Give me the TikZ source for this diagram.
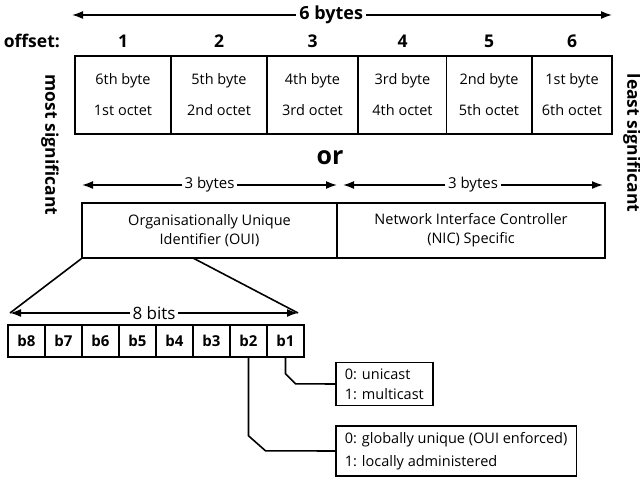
\documentclass[tikz,border=0pt]{standalone}
\usepackage{fontspec}
\setmainfont{Open Sans}
\usetikzlibrary{arrows.meta}

\begin{document}
\begin{tikzpicture}[x=1pt,y=-1pt,line width=1.6pt,
	>={Latex[length=11pt,width=8pt]},
	cell/.style={draw,minimum height=78pt,inner sep=0pt,align=center,font=\fontsize{14.5}{31}\selectfont},
	offs/.style={font=\bfseries\fontsize{17.5}{17.5}\selectfont},
	lbl/.style={fill=white,inner xsep=3pt,font=\fontsize{15}{15}\selectfont},
	field/.style={draw,minimum height=55pt,inner sep=0pt,align=center,font=\fontsize{14.5}{19}\selectfont},
	bit/.style={draw,minimum width=37pt,minimum height=32pt,inner sep=0pt,font=\bfseries\fontsize{15}{15}\selectfont},
	note/.style={draw,anchor=west,align=left,inner xsep=9pt,inner ysep=6pt},
	side/.style={rotate=-90,font=\bfseries\fontsize{17.5}{17.5}\selectfont}]

	\useasboundingbox (0,0) rectangle (640,481);

	% six bytes of the address

	\coordinate (six-l) at (72,15);
	\coordinate (six-r) at (612,15);
	\draw[<->] (six-l) -- node[lbl,pos=0.48,font=\bfseries\fontsize{18}{18}\selectfont]{6 bytes} (six-r);

	\node[offs,anchor=east] (offset) at (64,41) {offset:};
	\foreach \n/\cx/\w/\bt/\oc in {1/123/96/6th/1st,2/219/96/5th/2nd,3/312.5/91/4th/3rd,4/402.5/88/3rd/4th,5/489/85/2nd/5th,6/572/80/1st/6th}
	{
		\node[offs] (off\n) at (\cx,41) {\n};
		\node[cell,minimum width=\w pt] (byte\n) at (\cx,95) {\bt{} byte\\\oc{} octet};
	}

	\node[side] (most) at (50,145) {most significant};
	\node[side] (least) at (632,143) {least significant};

	\node[font=\bfseries\fontsize{25}{25}\selectfont] (or) at (330,158) {or};

	% OUI and NIC halves

	\coordinate (oui-l) at (82,185);
	\coordinate (oui-r) at (337,185);
	\coordinate (nic-l) at (343,185);
	\coordinate (nic-r) at (603,185);
	\draw[<->] (oui-l) -- node[lbl]{3 bytes} (oui-r);
	\draw[<->] (nic-l) -- node[lbl]{3 bytes} (nic-r);

	\node[field,minimum width=255pt] (oui) at (209.5,230.5) {Organisationally Unique\\Identifier (OUI)};
	\node[field,minimum width=268pt] (nic) at (471,230.5) {Network Interface Controller\\(NIC) Specific};

	% first octet, bit by bit

	\coordinate (oui-cut) at (193,258);
	\coordinate (bits-l) at (10,313);
	\coordinate (bits-r) at (298,313);
	\draw (oui.south west) -- (bits-l);
	\draw (oui-cut) -- (bits-r);
	\draw[<->] (bits-l) -- node[lbl,font=\fontsize{17}{17}\selectfont]{8 bits} (bits-r);

	\foreach \i in {1,...,8}
		\node[bit] (b\i) at ({285.5-37*(\i-1)},341) {b\i};

	% meaning of b1 and b2

	\node[note,font=\fontsize{14.5}{20}\selectfont] (cast) at (335,384) {0: unicast\\1: multicast};
	\node[note,font=\fontsize{14.5}{23}\selectfont] (admin) at (335,451) {0: globally unique (OUI enforced)\\1: locally administered};

	\draw (b1.south) -- ++(0,16) -- ++(10,10) -- (cast.west);
	\draw (b2.south) -- ++(0,78) -- ++(17,15) -- (admin.west);

\end{tikzpicture}
\end{document}
